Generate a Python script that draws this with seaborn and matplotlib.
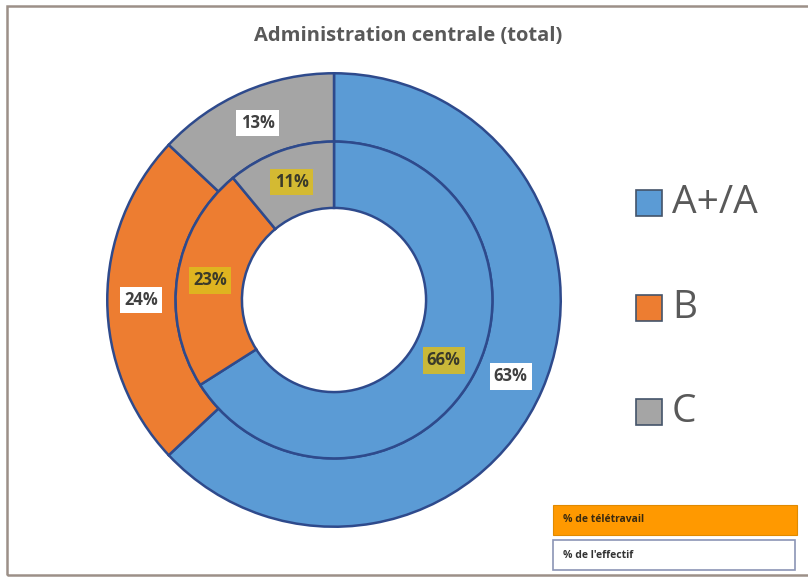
import numpy as np
import matplotlib
matplotlib.use('Agg')
import matplotlib.pyplot as plt
from matplotlib.patches import Rectangle
import seaborn as sns

# data
categories = ['A+/A', 'B', 'C']
effectif = [63, 24, 13]      # outer ring: % de l'effectif
teletravail = [66, 23, 11]   # inner ring: % de télétravail
title = 'Administration centrale (total)'
legend_boxes = ['% de télétravail', "% de l'effectif"]

sns.set_style('white')
plt.rcParams['font.family'] = ['Open Sans', 'DejaVu Sans']
colors = sns.color_palette(['#5B9BD5', '#ED7D31', '#A5A5A5'])
edge = '#2E4A8C'

W, H = 808, 577
fig = plt.figure(figsize=(W / 100, H / 100), dpi=100)
fig.patch.set_facecolor('white')

# frame of the chart
fig.add_artist(Rectangle((7 / W, 2 / H), 1.2, 569 / H, transform=fig.transFigure,
                         fill=False, edgecolor='#9C9088', lw=1.8))

# donut axes: centre (334, 300) px, outer radius 229 px
cx, cy, R = 334, 300, 229
ax = fig.add_axes([(cx - R) / W, (H - cy - R) / H, 2 * R / W, 2 * R / H])
r_mid = 160 / R
r_hole = 93 / R

wedges_out, _, txt_out = ax.pie(effectif, radius=1.0, colors=colors, startangle=90, counterclock=False,
                                autopct='%.0f%%', pctdistance=(1 + r_mid) / 2,
                                wedgeprops=dict(width=1 - r_mid, edgecolor=edge, linewidth=1.8),
                                textprops=dict(fontsize=12, fontweight='bold', color='#404040'))
wedges_in, _, txt_in = ax.pie(teletravail, radius=r_mid, colors=colors, startangle=90, counterclock=False,
                              autopct='%.0f%%', pctdistance=((r_mid + r_hole) / 2) / r_mid,
                              wedgeprops=dict(width=r_mid - r_hole, edgecolor=edge, linewidth=1.8),
                              textprops=dict(fontsize=12, fontweight='bold', color='#3a3a2a'))
for t in txt_out:
    t.set_bbox(dict(boxstyle='square,pad=0.25', facecolor='white', edgecolor='none'))
for t in txt_in:
    t.set_bbox(dict(boxstyle='square,pad=0.25', facecolor='#DDBE1E', alpha=0.85, edgecolor='none'))
ax.set_xlim(-1.01, 1.01)
ax.set_ylim(-1.01, 1.01)
ax.set_aspect('equal')
ax.axis('off')

# title
fig.text(408 / W, 1 - 36 / H, title, ha='center', va='center', fontsize=14.5,
         fontweight='bold', color='#595959')

# legend
for i, (lab, col) in enumerate(zip(categories, colors)):
    y = 203 + i * 104.5
    fig.add_artist(Rectangle((636 / W, 1 - (y + 13) / H), 26 / W, 26 / H, transform=fig.transFigure,
                             facecolor=col, edgecolor='#44546A', lw=1.2))
    fig.text(672 / W, 1 - y / H, lab, ha='left', va='center', fontsize=28, color='#595959')

# bottom boxes
fig.add_artist(Rectangle((553 / W, 1 - 535 / H), 244 / W, 30 / H, transform=fig.transFigure,
                         facecolor='#FF9900', edgecolor='#E08A00', lw=0.8))
fig.text(563 / W, 1 - 520 / H, legend_boxes[0], ha='left', va='center', fontsize=7.5,
         fontweight='bold', color='#3a2a10')
fig.add_artist(Rectangle((553 / W, 1 - 570 / H), 242 / W, 30 / H, transform=fig.transFigure,
                         facecolor='white', edgecolor='#8B95B5', lw=1.2))
fig.text(563 / W, 1 - 555 / H, legend_boxes[1], ha='left', va='center', fontsize=7.5,
         fontweight='bold', color='#333333')

fig.savefig('out.png', dpi=100, facecolor='white')
